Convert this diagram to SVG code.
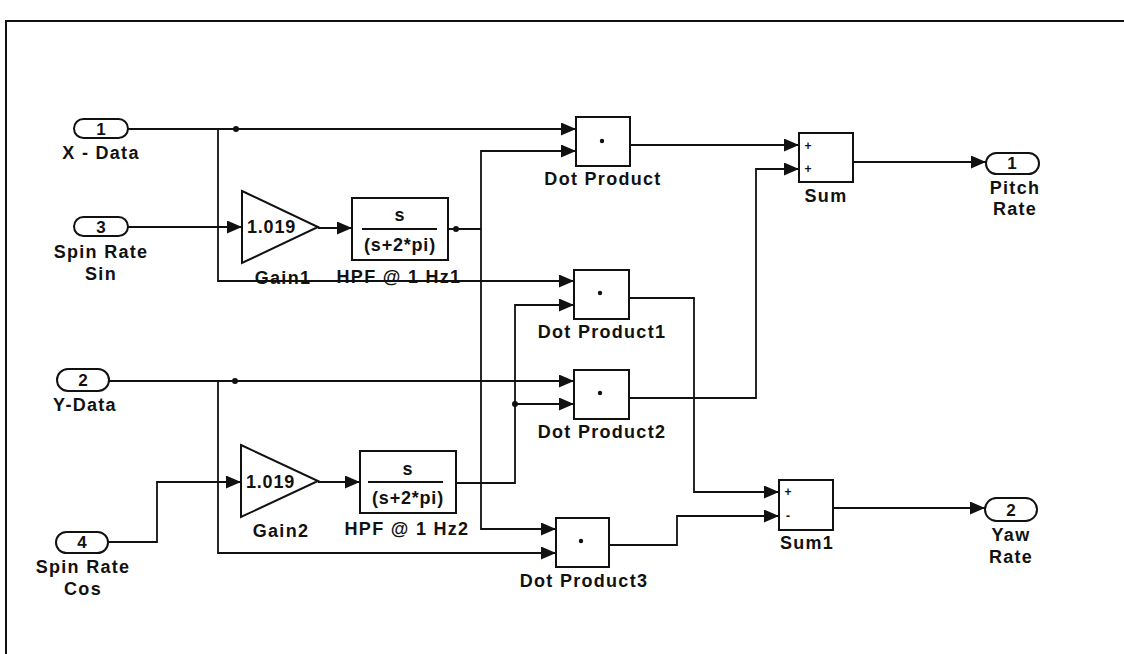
<svg xmlns="http://www.w3.org/2000/svg" width="1124" height="654" viewBox="0 0 1124 654">
<style>
.blk{fill:#fff;stroke:#111;stroke-width:2}
.ln{fill:none;stroke:#111;stroke-width:1.8}
.lbl{font-family:"Liberation Sans",Arial,sans-serif;font-weight:bold;font-size:18px;letter-spacing:1.3px;fill:#111;text-anchor:middle}
.num{font-family:"Liberation Sans",Arial,sans-serif;font-weight:bold;font-size:17px;fill:#111;text-anchor:middle}
.in{font-family:"Liberation Sans",Arial,sans-serif;font-weight:bold;font-size:18px;letter-spacing:0.8px;fill:#111;text-anchor:middle}
.sg{font-family:"Liberation Sans",Arial,sans-serif;font-weight:bold;font-size:12px;fill:#111;text-anchor:middle}
.dot{fill:#111}
</style>
<defs>
<marker id="ah" markerUnits="userSpaceOnUse" markerWidth="15" markerHeight="13" refX="15" refY="6.5" orient="auto">
<path d="M0,0 L15,6.5 L0,13 z" fill="#111"/>
</marker>
</defs>
<rect x="0" y="0" width="1124" height="654" fill="#fff"/>
<path d="M6,654 V21 H1124" fill="none" stroke="#111" stroke-width="2"/>

<g id="in1"><rect class="blk" x="74" y="119" width="54" height="19" rx="9.5"/><text class="num" x="101" y="135">1</text><text class="lbl" x="101" y="159">X - Data</text></g>
<g id="in3"><rect class="blk" x="74" y="217" width="54" height="19" rx="9.5"/><text class="num" x="101" y="233">3</text><text class="lbl" x="101" y="258">Spin Rate</text><text class="lbl" x="101" y="280">Sin</text></g>
<g id="in2"><rect class="blk" x="57" y="369" width="52" height="22" rx="11"/><text class="num" x="83" y="386">2</text><text class="lbl" x="85" y="411">Y-Data</text></g>
<g id="in4"><rect class="blk" x="56" y="532" width="52" height="21" rx="10.5"/><text class="num" x="82" y="548">4</text><text class="lbl" x="83" y="573">Spin Rate</text><text class="lbl" x="83" y="595">Cos</text></g>

<g id="gain1"><path class="blk" d="M242,191 L318,227 L242,263 Z"/><text class="in" x="247" y="233" style="text-anchor:start">1.019</text><text class="lbl" x="283" y="284">Gain1</text></g>
<g id="gain2"><path class="blk" d="M241,445 L318,481 L241,517 Z"/><text class="in" x="246" y="488" style="text-anchor:start">1.019</text><text class="lbl" x="281" y="537">Gain2</text></g>

<g id="hpf1"><rect class="blk" x="352" y="198" width="96" height="62"/><text class="in" x="400" y="221">s</text><line x1="362" y1="229" x2="437" y2="229" stroke="#111" stroke-width="2"/><text class="in" x="400" y="251">(s+2*pi)</text><text class="lbl" x="399" y="283">HPF @ 1 Hz1</text></g>
<g id="hpf2"><rect class="blk" x="360" y="451" width="96" height="62"/><text class="in" x="408" y="475">s</text><line x1="368" y1="482" x2="443" y2="482" stroke="#111" stroke-width="2"/><text class="in" x="408" y="504">(s+2*pi)</text><text class="lbl" x="407" y="535">HPF @ 1 Hz2</text></g>

<g id="dp"><rect class="blk" x="576" y="117" width="54" height="49"/><circle class="dot" cx="602" cy="141" r="2.2"/><text class="lbl" x="603" y="185">Dot Product</text></g>
<g id="dp1"><rect class="blk" x="574" y="270" width="55" height="49"/><circle class="dot" cx="600" cy="293" r="2.2"/><text class="lbl" x="602" y="338">Dot Product1</text></g>
<g id="dp2"><rect class="blk" x="574" y="370" width="55" height="49"/><circle class="dot" cx="600" cy="393" r="2.2"/><text class="lbl" x="602" y="438">Dot Product2</text></g>
<g id="dp3"><rect class="blk" x="556" y="518" width="53" height="49"/><circle class="dot" cx="581" cy="541" r="2.2"/><text class="lbl" x="584" y="587">Dot Product3</text></g>

<g id="sum"><rect class="blk" x="799" y="133" width="54" height="49"/><text class="sg" x="808" y="150">+</text><text class="sg" x="808" y="173">+</text><text class="lbl" x="826" y="202">Sum</text></g>
<g id="sum1"><rect class="blk" x="779" y="480" width="54" height="50"/><text class="sg" x="788" y="496">+</text><text class="sg" x="788" y="520">-</text><text class="lbl" x="807" y="549">Sum1</text></g>

<g id="out1"><rect class="blk" x="986" y="153" width="53" height="21" rx="10.5"/><text class="num" x="1012" y="169">1</text><text class="lbl" x="1015" y="194">Pitch</text><text class="lbl" x="1015" y="215">Rate</text></g>
<g id="out2"><rect class="blk" x="985" y="498" width="52" height="23" rx="11.5"/><text class="num" x="1011" y="516">2</text><text class="lbl" x="1011" y="541">Yaw</text><text class="lbl" x="1011" y="563">Rate</text></g>

<g id="connectors">
<path class="ln" marker-end="url(#ah)" d="M128,129 H576"/>
<path class="ln" marker-end="url(#ah)" d="M218,129 V281 H574"/>
<path class="ln" marker-end="url(#ah)" d="M128,227 H242"/>
<path class="ln" marker-end="url(#ah)" d="M318,228 H352"/>
<path class="ln" marker-end="url(#ah)" d="M448,229 H481 V151 H576"/>
<path class="ln" marker-end="url(#ah)" d="M481,229 V529 H556"/>
<path class="ln" marker-end="url(#ah)" d="M109,381 H574"/>
<path class="ln" marker-end="url(#ah)" d="M218,381 V553 H556"/>
<path class="ln" marker-end="url(#ah)" d="M108,542 H157 V482 H241"/>
<path class="ln" marker-end="url(#ah)" d="M318,482 H360"/>
<path class="ln" marker-end="url(#ah)" d="M456,483 H515 V305 H574"/>
<path class="ln" marker-end="url(#ah)" d="M515,404 H574"/>
<path class="ln" marker-end="url(#ah)" d="M630,145 H799"/>
<path class="ln" marker-end="url(#ah)" d="M629,298 H694 V492 H779"/>
<path class="ln" marker-end="url(#ah)" d="M629,398 H756 V169 H799"/>
<path class="ln" marker-end="url(#ah)" d="M609,545 H677 V516 H779"/>
<path class="ln" marker-end="url(#ah)" d="M853,162 H986"/>
<path class="ln" marker-end="url(#ah)" d="M833,508 H985"/>
<circle class="dot" cx="236" cy="129" r="3"/>
<circle class="dot" cx="235" cy="381" r="3"/>
<circle class="dot" cx="456" cy="229" r="3"/>
<circle class="dot" cx="515" cy="404" r="3"/>
</g>
</svg>
